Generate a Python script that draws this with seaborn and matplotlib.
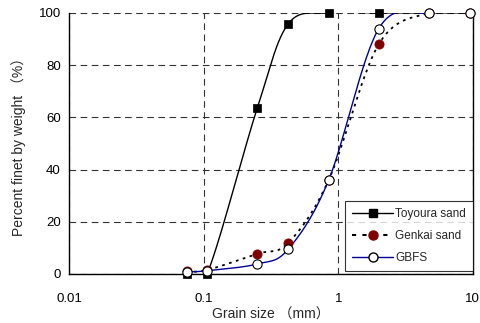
import numpy as np
import pandas as pd
import matplotlib
matplotlib.use("Agg")
import matplotlib.pyplot as plt
import seaborn as sns
from matplotlib.lines import Line2D
from matplotlib.ticker import LogLocator, NullFormatter, FixedLocator

# grain size (mm) and percent finer by weight (%)
toyoura_size = [0.075, 0.106, 0.25, 0.425, 0.85, 2.0, 10.0]
toyoura_pct = [0.0, 0.0, 63.5, 95.8, 100.0, 100.0, 100.0]

genkai_size = [0.075, 0.106, 0.25, 0.425, 0.85, 2.0, 4.75, 9.5]
genkai_pct = [1.0, 1.5, 7.7, 11.9, 36.0, 88.0, 100.0, 100.0]

gbfs_size = [0.075, 0.106, 0.25, 0.425, 0.85, 2.0, 4.75, 9.5]
gbfs_pct = [0.8, 1.2, 3.8, 9.5, 36.0, 94.0, 100.0, 100.0]

x_ticks = [0.01, 0.1, 1, 10]
x_ticklabels = ["0.01", "0.1", "1", "10"]
y_ticks = [0, 20, 40, 60, 80, 100]


def smooth(xs, ys, n=30):
    # Excel-like smoothed line (Catmull-Rom in log-x space)
    lx = np.log10(xs)
    y = np.asarray(ys, float)
    px = np.concatenate([[lx[0]], lx, [lx[-1]]])
    py = np.concatenate([[y[0]], y, [y[-1]]])
    out_x, out_y = [], []
    t = np.linspace(0, 1, n)
    for i in range(1, len(px) - 2):
        for p, o in ((px, out_x), (py, out_y)):
            p0, p1, p2, p3 = p[i - 1], p[i], p[i + 1], p[i + 2]
            o.extend(0.5 * (2 * p1 + (-p0 + p2) * t
                            + (2 * p0 - 5 * p1 + 4 * p2 - p3) * t ** 2
                            + (-p0 + 3 * p1 - 3 * p2 + p3) * t ** 3))
    return pd.DataFrame({"size": 10 ** np.array(out_x), "pct": out_y})


sns.set_style("white")
plt.rcParams["font.family"] = ["Liberation Sans", "Noto Sans CJK JP", "DejaVu Sans"]

fig = plt.figure(figsize=(4.8, 3.23), dpi=100)
ax = fig.add_axes([0.144, 0.152, 0.841, 0.808])

red = "#800000"
blue = "#000099"

sns.lineplot(data=smooth(toyoura_size, toyoura_pct), x="size", y="pct",
             color="black", lw=1.0, sort=False, ax=ax)
sns.lineplot(data=smooth(genkai_size, genkai_pct), x="size", y="pct",
             color="black", lw=1.3, ls=(0, (1.5, 2.5)), sort=False, ax=ax)
sns.lineplot(data=smooth(gbfs_size, gbfs_pct), x="size", y="pct",
             color=blue, lw=1.0, sort=False, ax=ax)

sns.scatterplot(x=toyoura_size[:-1], y=toyoura_pct[:-1], marker="s", s=40,
                color="black", edgecolor="black", ax=ax, zorder=5,
                clip_on=False)
sns.scatterplot(x=genkai_size, y=genkai_pct, marker="o", s=44,
                color=red, edgecolor=red, ax=ax, zorder=5, clip_on=False)
sns.scatterplot(x=gbfs_size, y=gbfs_pct, marker="o", s=44,
                color="white", edgecolor="black", linewidth=0.8, ax=ax,
                zorder=6, clip_on=False)

ax.set_xscale("log")
ax.set_xlim(0.01, 10)
ax.set_ylim(0, 100)
ax.xaxis.set_major_locator(FixedLocator(x_ticks))
ax.set_xticklabels(x_ticklabels)
ax.xaxis.set_minor_locator(LogLocator(base=10, subs=np.arange(2, 10)))
ax.xaxis.set_minor_formatter(NullFormatter())
ax.set_yticks(y_ticks)

ax.tick_params(axis="x", which="major", direction="in", length=4, width=0.8,
               labelsize=9.5, pad=14, colors="black")
ax.tick_params(axis="x", which="minor", direction="in", length=3, width=0.6)
ax.tick_params(axis="y", length=0, labelsize=9.5, pad=6, colors="black")

ax.grid(True, which="major", color="#333333", ls=(0, (6, 4)), lw=0.8)
ax.set_axisbelow(True)
for side in ["left", "bottom", "right"]:
    ax.spines[side].set_color("black")
    ax.spines[side].set_linewidth(1.0)
ax.spines["top"].set_visible(False)

ax.set_xlabel("Grain size （mm）", fontsize=10, labelpad=2)
ax.set_ylabel("Percent finet by weight （%）", fontsize=10, labelpad=9)

handles = [
    Line2D([], [], color="black", lw=1.0, marker="s", markersize=6,
           markerfacecolor="black"),
    Line2D([], [], color="black", lw=1.5, ls=(0, (2, 3)), marker="o",
           markersize=6.5, markerfacecolor=red, markeredgecolor=red),
    Line2D([], [], color=blue, lw=1.0, marker="o", markersize=6.5,
           markerfacecolor="white", markeredgecolor="black"),
]
leg = ax.legend(handles, ["Toyoura sand", "Genkai sand", "GBFS"],
                loc="lower right", bbox_to_anchor=(1.0, 0.01), fontsize=8.5,
                frameon=True, fancybox=False, edgecolor="black",
                handlelength=3.4, handletextpad=0.2, borderpad=0.6,
                labelspacing=0.85, borderaxespad=0)
leg.get_frame().set_linewidth(0.8)
leg.set_zorder(10)

fig.savefig("out.png", dpi=100)
